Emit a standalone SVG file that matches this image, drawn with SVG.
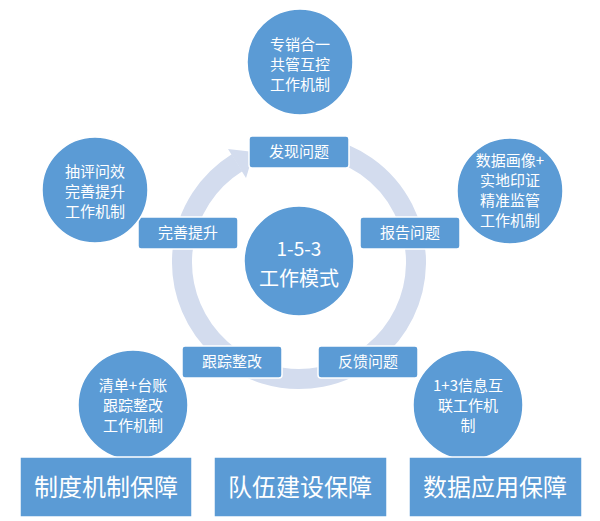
<svg xmlns="http://www.w3.org/2000/svg" width="600" height="521" viewBox="0 0 600 521">
<style>
.c{fill:#5b9bd5;stroke:#fff;stroke-width:1.5}
.b{fill:#5b9bd5;stroke:#fff;stroke-width:1.5}
text{fill:#fff;font-family:"Noto Sans CJK SC","Noto Sans",sans-serif;text-anchor:middle}
.s{font-size:15px}
.l{font-size:24px}
</style>
<rect width="600" height="521" fill="#fff"/>
<g id="connectors">
<path d="M319.3,146.8 A117,117 0 1 1 237,162.8" fill="none" stroke="#d3dcee" stroke-width="20"/>
<polygon points="254,152 228,149 246,178" fill="#d3dcee"/>
</g>
<g id="center"><circle class="c" cx="299" cy="261" r="55"/><text x="299" y="256" font-size="19">1-5-3</text><text x="299" y="286" font-size="20">工作模式</text></g>
<g id="n-find"><rect class="b" x="249" y="136" width="100" height="32" rx="3"/><text class="s" x="299" y="157">发现问题</text></g>
<g id="n-report"><rect class="b" x="360" y="217" width="100" height="32" rx="3"/><text class="s" x="410" y="238">报告问题</text></g>
<g id="n-improve"><rect class="b" x="138" y="217" width="100" height="32" rx="3"/><text class="s" x="188" y="238">完善提升</text></g>
<g id="n-track"><rect class="b" x="182" y="346" width="100" height="32" rx="3"/><text class="s" x="232" y="367">跟踪整改</text></g>
<g id="n-feedback"><rect class="b" x="318" y="346" width="100" height="32" rx="3"/><text class="s" x="368" y="367">反馈问题</text></g>
<g id="c-top"><circle class="c" cx="300" cy="62" r="53"/><text class="s" x="300" y="50">专销合一</text><text class="s" x="300" y="70">共管互控</text><text class="s" x="300" y="90">工作机制</text></g>
<g id="c-right"><circle class="c" cx="510" cy="191" r="53"/><text class="s" x="510" y="166">数据画像+</text><text class="s" x="510" y="186">实地印证</text><text class="s" x="510" y="206">精准监管</text><text class="s" x="510" y="226">工作机制</text></g>
<g id="c-left"><circle class="c" cx="95" cy="190" r="53"/><text class="s" x="95" y="177">抽评问效</text><text class="s" x="95" y="197">完善提升</text><text class="s" x="95" y="217">工作机制</text></g>
<g id="c-bl"><circle class="c" cx="133" cy="405" r="55"/><text class="s" x="133" y="391">清单+台账</text><text class="s" x="133" y="411">跟踪整改</text><text class="s" x="133" y="431">工作机制</text></g>
<g id="c-br"><circle class="c" cx="468" cy="405" r="55"/><text class="s" x="468" y="391">1+3信息互</text><text class="s" x="468" y="411">联工作机</text><text class="s" x="468" y="431">制</text></g>
<g id="g1"><rect class="b" x="20" y="457" width="172" height="60"/><text class="l" x="106" y="496">制度机制保障</text></g>
<g id="g2"><rect class="b" x="214" y="457" width="173" height="60"/><text class="l" x="300" y="496">队伍建设保障</text></g>
<g id="g3"><rect class="b" x="409" y="457" width="173" height="60"/><text class="l" x="495" y="496">数据应用保障</text></g>
</svg>
